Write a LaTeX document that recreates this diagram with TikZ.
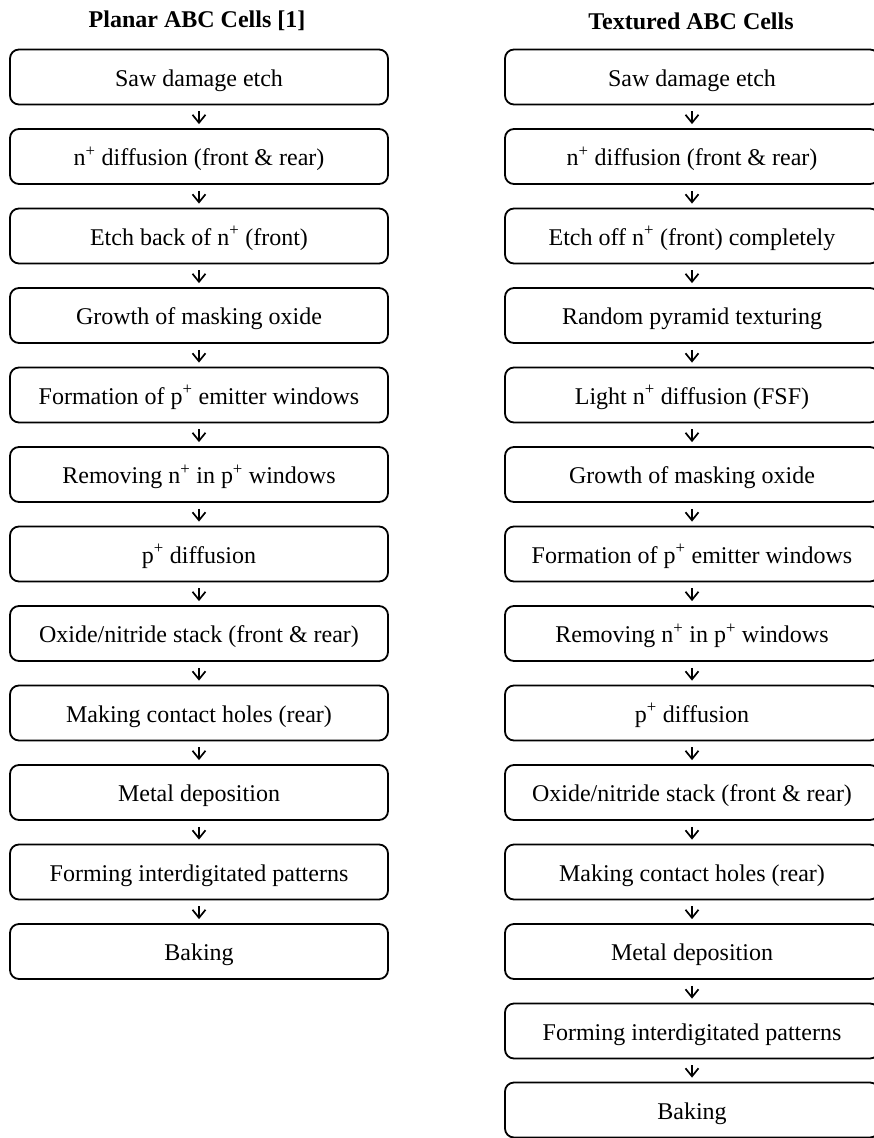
\documentclass[tikz,border=0pt]{standalone}
\usepackage{fontspec}
\setmainfont{Liberation Serif}
\usetikzlibrary{arrows.meta}
\newcommand{\sps}{\textsuperscript{+}}
\begin{document}
\begin{tikzpicture}[x=1pt,y=-1pt,
  stepbox/.style={draw, line width=1.8pt, rounded corners=9pt, minimum height=55pt, inner sep=0pt, text height=21pt, text depth=3pt, font=\fontsize{24}{28}\selectfont},
  lbox/.style={stepbox, minimum width=378pt},
  rbox/.style={stepbox, minimum width=374pt},
  flow/.style={line width=1.7pt, -{Straight Barb[length=8pt,width=13pt,line width=1.7pt]}, shorten <=6pt, shorten >=4pt},
  coltitle/.style={font=\fontsize{24}{28}\selectfont\bfseries}]
\useasboundingbox (0,0) rectangle (874,1138);
\clip (0,0) rectangle (874,1138);
\node[coltitle] (tl) at (197,21) {Planar ABC Cells [1]};
\node[coltitle] (tr) at (691,21) {Textured ABC Cells};
% left column
\node[lbox] (L1) at (199,77) {Saw damage etch};
\node[lbox] (L2) at (199,156.5) {n\sps{} diffusion (front \& rear)};
\node[lbox] (L3) at (199,236) {Etch back of n\sps{} (front)};
\node[lbox] (L4) at (199,315.5) {Growth of masking oxide};
\node[lbox] (L5) at (199,395) {Formation of p\sps{} emitter windows};
\node[lbox] (L6) at (199,474.5) {Removing n\sps{} in p\sps{} windows};
\node[lbox] (L7) at (199,554) {p\sps{} diffusion};
\node[lbox] (L8) at (199,633.5) {Oxide/nitride stack (front \& rear)};
\node[lbox] (L9) at (199,713) {Making contact holes (rear)};
\node[lbox] (L10) at (199,792.5) {Metal deposition};
\node[lbox] (L11) at (199,872) {Forming interdigitated patterns};
\node[lbox] (L12) at (199,951.5) {Baking};
% right column
\node[rbox] (R1) at (692,77) {Saw damage etch};
\node[rbox] (R2) at (692,156.5) {n\sps{} diffusion (front \& rear)};
\node[rbox] (R3) at (692,236) {Etch off n\sps{} (front) completely};
\node[rbox] (R4) at (692,315.5) {Random pyramid texturing};
\node[rbox] (R5) at (692,395) {Light n\sps{} diffusion (FSF)};
\node[rbox] (R6) at (692,474.5) {Growth of masking oxide};
\node[rbox] (R7) at (692,554) {Formation of p\sps{} emitter windows};
\node[rbox] (R8) at (692,633.5) {Removing n\sps{} in p\sps{} windows};
\node[rbox] (R9) at (692,713) {p\sps{} diffusion};
\node[rbox] (R10) at (692,792.5) {Oxide/nitride stack (front \& rear)};
\node[rbox] (R11) at (692,872) {Making contact holes (rear)};
\node[rbox] (R12) at (692,951.5) {Metal deposition};
\node[rbox] (R13) at (692,1031) {Forming interdigitated patterns};
\node[rbox] (R14) at (692,1110) {Baking};
\foreach \a/\b in {1/2,2/3,3/4,4/5,5/6,6/7,7/8,8/9,9/10,10/11,11/12}
  \draw[flow] (L\a.south) -- (L\b.north);
\foreach \a/\b in {1/2,2/3,3/4,4/5,5/6,6/7,7/8,8/9,9/10,10/11,11/12,12/13,13/14}
  \draw[flow] (R\a.south) -- (R\b.north);
\end{tikzpicture}
\end{document}
